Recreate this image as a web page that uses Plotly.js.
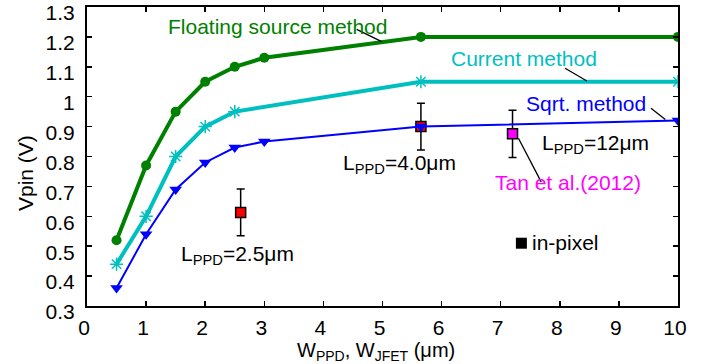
<!DOCTYPE html>
<html>
<head>
<meta charset="utf-8">
<script src="https://cdn.plot.ly/plotly-3.0.1.min.js"></script>
<style>html,body{margin:0;padding:0;background:#fff;}#chart{width:712px;height:364px;}</style>
</head>
<body>
<div id="chart"></div>
<script>
// Floating source method
const xFloat = [0.5, 1, 1.5, 2, 2.5, 3, 5.65, 10];
const yFloat = [0.52, 0.77, 0.95, 1.05, 1.10, 1.13, 1.20, 1.20];
// Current method
const xCurrent = [0.5, 1, 1.5, 2, 2.5, 5.65, 10];
const yCurrent = [0.44, 0.60, 0.80, 0.90, 0.95, 1.05, 1.05];
// Sqrt. method
const xSqrt = [0.5, 1, 1.5, 2, 2.5, 3, 5.65, 10];
const ySqrt = [0.36, 0.54, 0.69, 0.78, 0.83, 0.85, 0.90, 0.92];
// in-pixel measurements (L_PPD = 2.5 um, 4.0 um)
const xInPixel = [2.6, 5.65];
const yInPixel = [0.613, 0.90];
const errInPixel = [0.078, 0.078];
// Tan et al. (2012), L_PPD = 12 um
const xTan = [7.2];
const yTan = [0.876];
const errTan = [0.079];
// legend-style sample marker "in-pixel"
const xLegend = [7.35];
const yLegend = [0.51];

const xTicks = [0,1,2,3,4,5,6,7,8,9,10];
const yTicks = [0.3,0.4,0.5,0.6,0.7,0.8,0.9,1.0,1.1,1.2,1.3];
const yTickText = ['0.3','0.4','0.5','0.6','0.7','0.8','0.9','1','1.1','1.2','1.3'];

const GREEN = 'rgb(0,128,0)';
const CYAN = 'rgb(0,191,191)';
const BLUE = 'rgb(0,0,255)';
const MAGENTA = 'rgb(255,0,255)';
const RED = 'rgb(255,0,0)';

const traces = [
  {x: xFloat, y: yFloat, mode: 'lines+markers', line: {color: GREEN, width: 4},
   marker: {symbol: 'circle', size: 10, color: GREEN}},
  {x: xCurrent, y: yCurrent, mode: 'lines+markers', line: {color: CYAN, width: 4},
   marker: {symbol: 'asterisk-open', size: 11, color: CYAN, line: {color: CYAN, width: 1.5}}},
  {x: xInPixel, y: yInPixel, mode: 'markers',
   marker: {symbol: 'square', size: 10, color: RED, line: {color: 'black', width: 1.5}},
   error_y: {type: 'data', array: errInPixel, color: 'black', thickness: 1.5, width: 4}},
  {x: xTan, y: yTan, mode: 'markers',
   marker: {symbol: 'square', size: 10, color: MAGENTA, line: {color: 'black', width: 1.5}},
   error_y: {type: 'data', array: errTan, color: 'black', thickness: 1.5, width: 4}},
  {x: xSqrt, y: ySqrt, mode: 'lines+markers', line: {color: BLUE, width: 2},
   marker: {symbol: 'triangle-down', size: 11, color: BLUE}},
  {x: xLegend, y: yLegend, mode: 'markers',
   marker: {symbol: 'square', size: 11, color: 'black'}}
];

const FONT = 'Liberation Sans, Arial, sans-serif';
function lab(text, x, y, color, xanchor) {
  return {text: text, x: x, y: y, xref: 'x', yref: 'y', showarrow: false,
    xanchor: xanchor || 'center', yanchor: 'middle',
    font: {family: FONT, size: 21, color: color}};
}
function ptr(x0, y0, x1, y1) {
  return {type: 'line', xref: 'x', yref: 'y', x0: x0, y0: y0, x1: x1, y1: y1,
    line: {color: 'black', width: 1.3}};
}

const layout = {
  width: 712, height: 364,
  margin: {l: 87, r: 34, t: 7, b: 58},
  paper_bgcolor: 'white', plot_bgcolor: 'white',
  showlegend: false,
  font: {family: FONT, size: 21, color: 'black'},
  xaxis: {
    range: [0, 10], tickvals: xTicks, ticks: 'inside', ticklen: 5, tickwidth: 1.5, tickcolor: 'black',
    showline: true, linewidth: 2, linecolor: 'black', mirror: 'ticks', showgrid: false, zeroline: false,
    tickfont: {family: FONT, size: 21, color: 'black'}, ticklabelstandoff: 2, ticklabelshift: -3,
    ticklabeloverflow: 'allow'
  },
  yaxis: {
    range: [0.3, 1.3], tickvals: yTicks, ticktext: yTickText, ticks: 'inside', ticklen: 5, tickwidth: 1.5, tickcolor: 'black',
    showline: true, linewidth: 2, linecolor: 'black', mirror: 'ticks', showgrid: false, zeroline: false,
    tickfont: {family: FONT, size: 21, color: 'black'}, ticklabelstandoff: 6, ticklabelshift: 6,
    ticklabeloverflow: 'allow'
  },
  shapes: [
    ptr(4.563, 1.2254, 4.986, 1.184),
    ptr(8.09, 1.095, 8.458, 1.0525),
    ptr(9.543, 0.961, 9.785, 0.924),
    ptr(7.30, 0.861, 7.685, 0.715)
  ],
  annotations: [
    {text: 'W<sub>PPD</sub>, W<sub>JFET</sub> (μm)', xref: 'paper', yref: 'paper', x: (376 - 87) / 591, y: (306 - 352) / 299,
     xanchor: 'center', yanchor: 'middle', showarrow: false, font: {family: FONT, size: 20, color: 'black'}},
    {text: 'Vpin (V)', xref: 'paper', yref: 'paper', x: (25 - 87) / 591, y: (306 - 173) / 299, textangle: -90,
     xanchor: 'center', yanchor: 'middle', showarrow: false, font: {family: FONT, size: 21, color: 'black'}},
    lab('Floating source method', 3.22, 1.235, GREEN),
    lab('Current method', 7.40, 1.128, CYAN),
    lab('Sqrt. method', 8.447, 0.977, BLUE),
    lab('L<sub>PPD</sub>=4.0μm', 5.296, 0.775, 'black'),
    lab('L<sub>PPD</sub>=12μm', 8.60, 0.841, 'black'),
    lab('Tan et al.(2012)', 8.133, 0.713, MAGENTA),
    lab('L<sub>PPD</sub>=2.5μm', 2.544, 0.470, 'black'),
    lab('in-pixel', 7.50, 0.512, 'black', 'left')
  ]
};

Plotly.newPlot('chart', traces, layout, {displayModeBar: false, staticPlot: true});
</script>
</body>
</html>
